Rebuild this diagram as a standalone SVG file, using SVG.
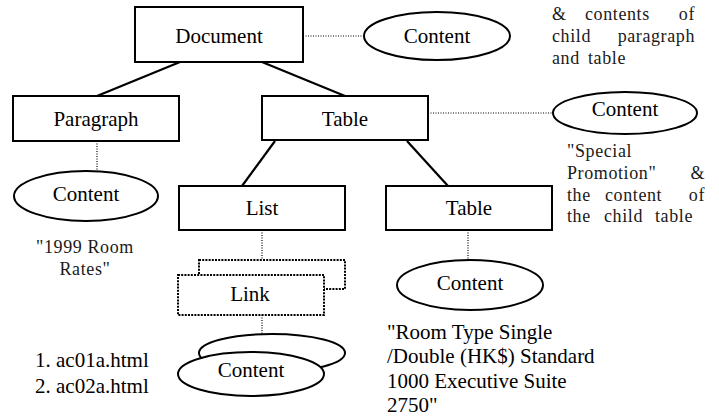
<svg xmlns="http://www.w3.org/2000/svg" width="719" height="419" viewBox="0 0 719 419">
  <style>
    .box { fill: #fff; stroke: #000; stroke-width: 2; }
    .dbox { fill: #fff; stroke: #000; stroke-width: 2; stroke-dasharray: 2 1.2; }
    .ell { fill: #fff; stroke: #000; stroke-width: 2; }
    .edge { stroke: #000; stroke-width: 2.2; fill: none; }
    .dot { stroke: #000; stroke-width: 1.2; stroke-dasharray: 1 1.5; fill: none; }
    .lbl { font-family: "Liberation Serif", "Times New Roman", serif; font-size: 21px; fill: #000; text-anchor: middle; }
    .txt { font-family: "Liberation Serif", "Times New Roman", serif; font-size: 21px; fill: #000; }
    .note { font-family: "Liberation Serif", "Times New Roman", serif; font-size: 18px; letter-spacing: 0.6px; fill: #1a1a1a; }
  </style>

  <!-- connectors -->
  <g id="connectors">
    <line class="edge" x1="180" y1="62" x2="97" y2="96"/>
    <line class="edge" x1="262" y1="62" x2="345" y2="96"/>
    <line class="edge" x1="275" y1="141" x2="242" y2="186"/>
    <line class="edge" x1="407" y1="141" x2="448" y2="186"/>
    <line class="dot" x1="303" y1="36" x2="364" y2="36"/>
    <line class="dot" x1="428" y1="113" x2="553" y2="113"/>
    <line class="dot" x1="97" y1="141" x2="97" y2="171"/>
    <line class="dot" x1="262" y1="230" x2="262" y2="260"/>
    <line class="dot" x1="262" y1="315" x2="262" y2="334"/>
    <line class="dot" x1="468" y1="230" x2="468" y2="260"/>
  </g>

  <g id="document">
    <rect class="box" x="135" y="7" width="168" height="55"/>
    <text class="lbl" x="219" y="43">Document</text>
  </g>
  <g id="document-content">
    <ellipse class="ell" cx="437" cy="36" rx="73" ry="24"/>
    <text class="lbl" x="437" y="43">Content</text>
  </g>

  <g id="paragraph">
    <rect class="box" x="13" y="96" width="166" height="45"/>
    <text class="lbl" x="96" y="126">Paragraph</text>
  </g>
  <g id="paragraph-content">
    <ellipse class="ell" cx="86" cy="196" rx="72" ry="25"/>
    <text class="lbl" x="86" y="201">Content</text>
  </g>

  <g id="table">
    <rect class="box" x="262" y="96" width="166" height="44"/>
    <text class="lbl" x="345" y="126">Table</text>
  </g>
  <g id="table-content">
    <ellipse class="ell" cx="625" cy="113" rx="72" ry="21"/>
    <text class="lbl" x="625" y="116">Content</text>
  </g>

  <g id="list">
    <rect class="box" x="179" y="186" width="166" height="44"/>
    <text class="lbl" x="262" y="215">List</text>
  </g>

  <g id="child-table">
    <rect class="box" x="386" y="186" width="166" height="44"/>
    <text class="lbl" x="469" y="215">Table</text>
  </g>
  <g id="child-table-content">
    <ellipse class="ell" cx="470" cy="285" rx="73" ry="25"/>
    <text class="lbl" x="470" y="290">Content</text>
  </g>

  <g id="link">
    <rect class="dbox" x="199" y="260" width="146" height="29"/>
    <rect class="dbox" x="178" y="275" width="146" height="40"/>
    <text class="lbl" x="250" y="301">Link</text>
  </g>
  <g id="link-content">
    <ellipse class="ell" cx="272" cy="353" rx="73" ry="19"/>
    <ellipse class="ell" cx="251" cy="374" rx="73" ry="22"/>
    <text class="lbl" x="251" y="377">Content</text>
  </g>

  <!-- annotations -->
  <g id="notes">
    <text class="note" y="20"><tspan x="552">&amp;</tspan><tspan x="585">contents</tspan><tspan x="695" text-anchor="end">of</tspan></text>
    <text class="note" y="42"><tspan x="552">child</tspan><tspan x="695" text-anchor="end">paragraph</tspan></text>
    <text class="note" y="64"><tspan x="552">and</tspan><tspan x="588">table</tspan></text>

    <text class="note" y="157"><tspan x="567">"Special</tspan></text>
    <text class="note" y="179"><tspan x="567">Promotion"</tspan><tspan x="705" text-anchor="end">&amp;</tspan></text>
    <text class="note" y="201"><tspan x="567">the</tspan><tspan x="605">content</tspan><tspan x="705" text-anchor="end">of</tspan></text>
    <text class="note" y="222"><tspan x="567">the</tspan><tspan x="604">child</tspan><tspan x="655">table</tspan></text>

    <text class="note" x="85" y="253" text-anchor="middle">"1999 Room</text>
    <text class="note" x="85" y="275" text-anchor="middle">Rates"</text>

    <text class="txt" x="35" y="367">1. ac01a.html</text>
    <text class="txt" x="35" y="393">2. ac02a.html</text>

    <text class="txt" x="387" y="339">"Room Type Single</text>
    <text class="txt" x="387" y="363">/Double (HK$) Standard</text>
    <text class="txt" x="387" y="388">1000 Executive Suite</text>
    <text class="txt" x="387" y="412">2750"</text>
  </g>
</svg>
